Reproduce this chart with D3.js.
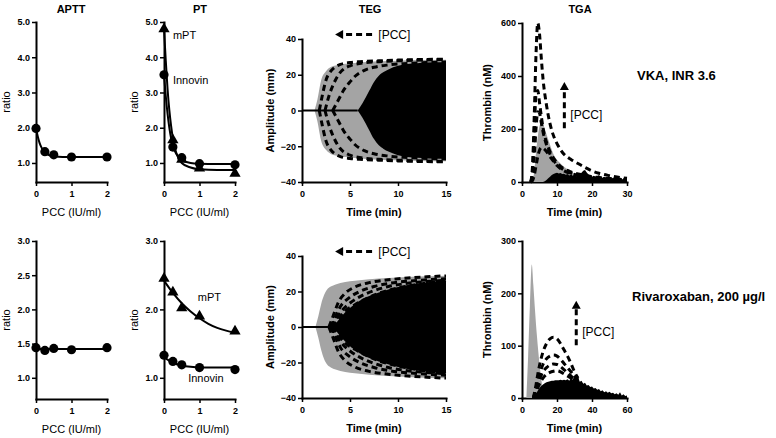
<!DOCTYPE html>
<html><head><meta charset="utf-8">
<script src="https://cdn.jsdelivr.net/npm/d3@7"></script>
<style>body{margin:0;background:#fff} svg{display:block} text{font-family:"Liberation Sans",Arial,Helvetica,sans-serif}</style>
</head><body><svg id="c" width="776" height="438"></svg>
<script>
// ---------- DATA ----------
const pcc = [0, 0.25, 0.5, 1, 2];
const apttVKA = [1.98, 1.32, 1.23, 1.17, 1.17];
const apttRiva = [1.44, 1.40, 1.43, 1.41, 1.44];
const ptVKA_mPT = [4.8, 1.65, 1.1, 0.85, 0.7];
const ptVKA_Innovin = [3.5, 1.45, 1.15, 0.98, 0.95];
const ptRiva_mPT = [2.45, 2.25, 2.02, 1.9, 1.68];
const ptRiva_Innovin = [1.33, 1.24, 1.19, 1.15, 1.12];

const fitX1 = [0, 0.05, 0.1, 0.15, 0.2, 0.25, 0.3, 0.4, 0.5, 0.75, 1, 1.5, 2];
const apttVKAFit = [1.98, 1.75, 1.57, 1.45, 1.36, 1.30, 1.26, 1.21, 1.19, 1.17, 1.17, 1.17, 1.17];
const ptVKA_mPTFit = [4.8, 3.9, 3.1, 2.5, 2.05, 1.7, 1.45, 1.15, 1.0, 0.87, 0.82, 0.8, 0.8];
const ptVKA_InnovinFit = [3.5, 2.9, 2.4, 2.0, 1.7, 1.5, 1.35, 1.18, 1.08, 1.0, 0.98, 0.97, 0.97];
const fitX2 = [0, 0.25, 0.5, 0.75, 1, 1.25, 1.5, 1.75, 2];
const apttRivaFit = [1.42, 1.42, 1.42, 1.42, 1.42, 1.42, 1.42, 1.42, 1.42];
const ptRiva_mPTFit = [2.42, 2.24, 2.09, 1.97, 1.87, 1.79, 1.73, 1.69, 1.66];
const ptRiva_InnovinFit = [1.30, 1.22, 1.18, 1.16, 1.15, 1.15, 1.15, 1.15, 1.15];

// TEG (upper half amplitude, mm; curve mirrored below)
const tegVKAGrayT = [1.3, 1.6, 2.0, 2.5, 3.0, 3.5, 4, 5, 6, 8, 10, 12, 15];
const tegVKAGrayA = [0, 6, 17, 22, 24.3, 25.2, 25.8, 26.3, 26.8, 27.5, 27.9, 28.2, 28.4];
const tegVKABlackT = [5.8, 6.3, 7, 7.5, 8, 8.5, 9, 10, 11, 12, 13, 15];
const tegVKABlackA = [0, 4, 11, 16, 19.5, 21.5, 23, 25, 26, 26.5, 26.8, 27];
const tegVKADash1T = [1.8, 2.1, 2.5, 3, 3.5, 4, 5, 6, 8, 10, 15];
const tegVKADash1A = [0, 8, 17, 22, 24.5, 25.8, 26.8, 27.3, 27.8, 28.2, 28.7];
const tegVKADash2T = [2.4, 2.8, 3.3, 3.8, 4.3, 5, 6, 8, 10, 15];
const tegVKADash2A = [0, 8, 15, 20, 23, 25, 26.3, 27.3, 27.8, 28.5];
const tegVKADash3T = [3.2, 3.8, 4.3, 5, 5.5, 6.5, 7.5, 9, 11, 13, 15];
const tegVKADash3A = [0, 6, 11, 16, 19, 22.5, 24.2, 25.5, 26.3, 26.8, 27.1];

const tegRivaGrayT = [1.4, 1.7, 2.0, 2.3, 2.6, 3.0, 3.5, 4, 5, 6, 8, 10, 12, 15];
const tegRivaGrayA = [0, 6, 13, 18, 21, 22.8, 24, 24.8, 25.8, 26.4, 27.3, 27.9, 28.4, 28.9];
const tegRivaBlackT = [3.3, 3.7, 4.2, 4.8, 5.5, 6.5, 7.5, 8.5, 10, 11, 12, 13, 15];
const tegRivaBlackA = [0, 3.3, 6.5, 9.8, 13, 16.3, 18.5, 20.3, 22.5, 23.6, 24.4, 25, 26];
const tegRivaDash1T = [2.8, 3.3, 3.8, 4.5, 5.5, 7, 9, 11, 13, 15];
const tegRivaDash1A = [0, 7, 14, 19, 22.5, 25, 26.6, 27.6, 28.3, 28.8];
const tegRivaDash2T = [3.0, 3.5, 4, 4.8, 6, 7.5, 9, 11, 13, 15];
const tegRivaDash2A = [0, 6, 11.5, 16, 20, 22.8, 24.5, 25.8, 26.6, 27.2];
const tegRivaDash3T = [3.1, 3.6, 4.2, 5, 6, 7.5, 9, 11, 13, 15];
const tegRivaDash3A = [0, 5, 9.5, 13.5, 17, 20.5, 22.8, 24.6, 25.6, 26.3];
const tegRivaDash4T = [3.2, 3.8, 4.5, 5.5, 6.5, 8, 10, 12, 15];
const tegRivaDash4A = [0, 4.5, 9, 12.5, 15.5, 19, 22, 24, 25.8];

// TGA (thrombin nM)
const tgaVKAGrayT = [3, 3.5, 4, 4.5, 5, 5.7, 6.5, 7.5, 9, 11, 13, 16, 20, 25, 30];
const tgaVKAGrayV = [0, 40, 110, 170, 210, 230, 200, 160, 105, 70, 48, 25, 12, 5, 2];
const tgaVKABlackT = [6, 6.5, 7, 7.5, 8, 8.5, 9, 9.5, 10, 10.5, 11, 11.5, 12, 12.5, 13, 13.5, 14, 14.5, 15, 15.5, 16, 16.5, 17, 17.5, 18, 18.5, 19, 19.5, 20, 20.5, 21, 21.5, 22, 22.5, 23, 23.5, 24, 24.5, 25, 25.5, 26, 26.5, 27, 27.5, 28, 28.5, 29, 29.5, 30];
const tgaVKABlackV = [0, 3, 8, 14, 20, 26, 30, 33, 35, 32, 34, 30, 31, 27, 30, 25, 28, 24, 27, 22, 26, 30, 35, 42, 45, 36, 28, 24, 20, 24, 18, 22, 26, 18, 16, 20, 14, 18, 15, 12, 16, 11, 14, 10, 13, 9, 12, 8, 10];
const tgaVKADashT = [2.5, 3, 3.5, 4, 4.5, 5, 5.5, 6, 7, 8, 9, 10, 12, 14, 16, 18, 20, 22, 25, 28, 30];
const tgaVKADash1V = [0, 60, 250, 480, 600, 560, 470, 390, 290, 220, 175, 145, 105, 85, 70, 55, 42, 33, 24, 17, 14];
const tgaVKADash2V = [0, 40, 180, 330, 345, 300, 250, 205, 150, 115, 90, 72, 50, 38, 30, 25, 20, 17, 13, 10, 9];
const tgaVKADash3V = [0, 20, 90, 200, 265, 260, 225, 190, 140, 105, 82, 65, 45, 34, 27, 22, 18, 15, 12, 9, 8];
const tgaVKADash4V = [0, 5, 25, 60, 95, 120, 130, 128, 115, 95, 78, 62, 42, 32, 25, 20, 17, 14, 11, 9, 8];

const tgaRivaGrayT = [2.5, 3.5, 4.5, 5.6, 6.5, 7.5, 8.5, 10, 11.5, 13];
const tgaRivaGrayV = [0, 80, 175, 255, 215, 165, 120, 65, 25, 0];
const tgaRivaBlackT = [6, 7, 8, 9, 10, 11, 12, 13, 14, 15, 16, 17, 18, 19, 20, 21, 22, 23, 24, 25, 26, 27, 28, 29, 30, 31, 32, 33, 34, 35, 36, 37, 38, 39, 40, 41, 42, 43, 44, 45, 46, 47, 48, 49, 50, 51, 52, 53, 54, 55, 56, 57, 58, 59, 60];
const tgaRivaBlackV = [0, 3, 8, 14, 19, 23, 26, 28, 30, 31, 32, 33, 33, 34, 34, 34, 35, 34, 35, 34, 36, 33, 38, 35, 44, 36, 40, 31, 33, 27, 29, 24, 25, 21, 22, 18, 19, 16, 17, 13, 15, 11, 13, 10, 12, 9, 10, 7, 9, 6, 11, 5, 7, 4, 5];
const tgaRivaDashT = [6.5, 8, 9, 10, 12, 14, 16, 18, 20, 22, 24, 26, 28, 30, 32];
const tgaRivaDash1V = [0, 25, 45, 62, 88, 104, 113, 116, 113, 104, 92, 80, 66, 50, 38];
const tgaRivaDash2V = [0, 18, 32, 45, 64, 75, 80, 82, 80, 74, 66, 58, 50, 42, 36];
const tgaRivaDash3V = [0, 14, 25, 35, 50, 58, 63, 65, 64, 60, 54, 48, 42, 37, 34];
const tgaRivaDash4V = [0, 10, 19, 27, 38, 45, 49, 51, 52, 50, 46, 42, 38, 35, 33];

const ratioTicksTop = [1.0, 2.0, 3.0, 4.0, 5.0];
const apttTicksBottom = [1.0, 1.5, 2.0, 2.5, 3.0];
const ptTicksBottom = [1.0, 2.0, 3.0];
const pccTicks = [0, 1, 2];
const tegTicksY = [-40, -20, 0, 20, 40];
const tegTicksX = [0, 5, 10, 15];
const tgaTicksYTop = [0, 200, 400, 600];
const tgaTicksYBottom = [0, 100, 200, 300];
const tgaTicksXTop = [0, 10, 20, 30];
const tgaTicksXBottom = [0, 20, 40, 60];

// ---------- DRAWING ----------
const svg = d3.select('#c');
const GRAY = '#a4a4a4';
const zip = (a, b) => a.map((v, i) => [v, b[i]]);

function axes(x, y, xt, yt, yfmt) {
  const g = svg.append('g');
  const ax = g.append('g').attr('transform', `translate(0,${y.range()[0]})`)
    .call(d3.axisBottom(x).tickValues(xt).tickSize(4).tickSizeOuter(0).tickPadding(5).tickFormat(d3.format('d')));
  const ay = g.append('g').attr('transform', `translate(${x.range()[0]},0)`)
    .call(d3.axisLeft(y).tickValues(yt).tickSize(4).tickSizeOuter(0).tickPadding(2).tickFormat(yfmt));
  [ax, ay].forEach(a => {
    a.select('.domain').attr('stroke', '#000').attr('stroke-width', 2).attr('stroke-linecap', 'square');
    a.selectAll('.tick line').attr('stroke', '#000').attr('stroke-width', 1.5);
    a.selectAll('.tick text').attr('fill', '#000').style('font-size', '9px').style('font-weight', 'bold')
      .style('font-family', '"Liberation Sans",Arial,sans-serif');
  });
}
function text(x, y, s, opt = {}) {
  const t = svg.append('text').attr('x', x).attr('y', y).text(s)
    .attr('text-anchor', opt.anchor || 'middle')
    .style('font-size', (opt.size || 11) + 'px')
    .style('font-weight', opt.bold ? 'bold' : 'normal').attr('fill', '#000');
  if (opt.rot) t.attr('transform', `rotate(-90,${x},${y})`);
  if (opt.dy) t.attr('dy', opt.dy);
  return t;
}
function arrow(x1, y1, x2, y2) {
  const dx = x2 - x1, dy = y2 - y1, L = Math.hypot(dx, dy), ux = dx / L, uy = dy / L;
  const hl = 8, hw = 4.5;
  const bx = x2 - ux * hl, by = y2 - uy * hl;
  svg.append('line').attr('x1', x1).attr('y1', y1).attr('x2', bx).attr('y2', by)
    .attr('stroke', '#000').attr('stroke-width', 3).attr('stroke-dasharray', '6,4');
  svg.append('path').attr('d', `M${x2},${y2}L${bx - uy * hw},${by + ux * hw}L${bx + uy * hw},${by - ux * hw}Z`).attr('fill', '#000');
}

// ---- ratio panels ----
function ratioPanel(x, y, yt, yfmt, fitX, fits, pts) {
  axes(x, y, pccTicks, yt, yfmt);
  const line = d3.line().x(d => x(d[0])).y(d => y(d[1])).curve(d3.curveMonotoneX);
  fits.forEach(f => svg.append('path').attr('d', line(zip(fitX, f))).attr('fill', 'none').attr('stroke', '#000').attr('stroke-width', 2));
  pts.forEach(p => {
    const data = zip(pcc, p.v);
    if (p.shape === 'tri') {
      svg.append('g').selectAll('path').data(data).join('path')
        .attr('d', d3.symbol(d3.symbolTriangle, 55)())
        .attr('transform', d => `translate(${x(d[0])},${y(d[1])})`).attr('fill', '#000');
    } else {
      svg.append('g').selectAll('circle').data(data).join('circle')
        .attr('cx', d => x(d[0])).attr('cy', d => y(d[1])).attr('r', 4.6).attr('fill', '#000');
    }
  });
  text(x.range()[0] - 26, (y.range()[0] + y.range()[1]) / 2, 'ratio', {rot: true});
  text((x.range()[0] + x.range()[1]) / 2, y.range()[0] + 34, 'PCC (IU/ml)');
}
const f1 = d3.format('.1f');
const xA = d3.scaleLinear().domain([0, 2]).range([36, 107]);
const xP = d3.scaleLinear().domain([0, 2]).range([164, 235]);
const yR1 = d3.scaleLinear().domain([0.46, 5]).range([182, 22]);
const yR2 = d3.scaleLinear().domain([0.69, 3]).range([399, 241]);

ratioPanel(xA, yR1, ratioTicksTop, f1, fitX1, [apttVKAFit], [{v: apttVKA}]);
ratioPanel(xP, yR1, ratioTicksTop, f1, fitX1, [ptVKA_mPTFit, ptVKA_InnovinFit], [{v: ptVKA_mPT, shape: 'tri'}, {v: ptVKA_Innovin}]);
ratioPanel(xA, yR2, apttTicksBottom, f1, fitX2, [apttRivaFit], [{v: apttRiva}]);
ratioPanel(xP, yR2, ptTicksBottom, f1, fitX2, [ptRiva_mPTFit, ptRiva_InnovinFit], [{v: ptRiva_mPT, shape: 'tri'}, {v: ptRiva_Innovin}]);

text(xP(0.25), yR1(4.62), 'mPT', {anchor: 'start', size: 11}).attr('dy', '0.35em');
text(xP(0.25), yR1(3.35), 'Innovin', {anchor: 'start', size: 11}).attr('dy', '0.35em');
text(xP(0.95), yR2(2.18), 'mPT', {anchor: 'start', size: 11}).attr('dy', '0.35em');
text(xP(0.68), yR2(0.99), 'Innovin', {anchor: 'start', size: 11}).attr('dy', '0.35em');

// ---- TEG panels ----
function tegPanel(x, y, gray, black, dashes) {
  axes(x, y, tegTicksX, tegTicksY, d3.format('d'));
  const area = d3.area().x(d => x(d[0])).y0(d => y(-d[1])).y1(d => y(d[1])).curve(d3.curveMonotoneX);
  svg.append('path').attr('d', area(zip(gray[0], gray[1]))).attr('fill', GRAY);
  svg.append('path').attr('d', area(zip(black[0], black[1]))).attr('fill', '#000');
  svg.append('line').attr('x1', x(0)).attr('x2', x(black[0][0])).attr('y1', y(0)).attr('y2', y(0))
    .attr('stroke', '#000').attr('stroke-width', 2);
  const up = d3.line().x(d => x(d[0])).y(d => y(d[1])).curve(d3.curveMonotoneX);
  const dn = d3.line().x(d => x(d[0])).y(d => y(-d[1])).curve(d3.curveMonotoneX);
  dashes.forEach(dd => {
    const data = zip(dd[0], dd[1]);
    [up, dn].forEach(l => svg.append('path').attr('d', l(data)).attr('fill', 'none')
      .attr('stroke', '#000').attr('stroke-width', 3).attr('stroke-dasharray', '6,4'));
  });
  text(x.range()[0] - 28, (y.range()[0] + y.range()[1]) / 2, 'Amplitude (mm)', {rot: true, bold: true});
  text((x.range()[0] + x.range()[1]) / 2, y.range()[0] + 34, 'Time (min)', {bold: true});
  const ay = y(42.5);
  arrow(x(7.3), ay, x(3.45), ay);
  text(x(7.95), ay, '[PCC]', {anchor: 'start', size: 12, dy: '0.36em'});
}
const xT = d3.scaleLinear().domain([0, 15]).range([302, 446]);
const yT1 = d3.scaleLinear().domain([-40, 40]).range([182, 39]);
const yT2 = d3.scaleLinear().domain([-40, 40]).range([398, 256]);
tegPanel(xT, yT1, [tegVKAGrayT, tegVKAGrayA], [tegVKABlackT, tegVKABlackA],
  [[tegVKADash1T, tegVKADash1A], [tegVKADash2T, tegVKADash2A], [tegVKADash3T, tegVKADash3A]]);
tegPanel(xT, yT2, [tegRivaGrayT, tegRivaGrayA], [tegRivaBlackT, tegRivaBlackA],
  [[tegRivaDash1T, tegRivaDash1A], [tegRivaDash2T, tegRivaDash2A], [tegRivaDash3T, tegRivaDash3A], [tegRivaDash4T, tegRivaDash4A]]);

// ---- TGA panels ----
function tgaPanel(x, y, xt, yt, gray, black, dashT, dashes, arr) {
  axes(x, y, xt, yt, d3.format('d'));
  const area = d3.area().x(d => x(d[0])).y0(y(0)).y1(d => y(d[1]));
  svg.append('path').attr('d', area.curve(d3.curveMonotoneX)(zip(gray[0], gray[1]))).attr('fill', GRAY);
  svg.append('path').attr('d', area.curve(d3.curveLinear)(zip(black[0], black[1]))).attr('fill', '#000');
  const line = d3.line().x(d => x(d[0])).y(d => y(d[1])).curve(d3.curveMonotoneX);
  dashes.forEach(v => svg.append('path').attr('d', line(zip(dashT, v))).attr('fill', 'none')
    .attr('stroke', '#000').attr('stroke-width', 3).attr('stroke-dasharray', '6,4'));
  text(x.range()[0] - 31, (y.range()[0] + y.range()[1]) / 2, 'Thrombin (nM)', {rot: true, bold: true});
  text((x.range()[0] + x.range()[1]) / 2, y.range()[0] + 34, 'Time (min)', {bold: true});
  arrow(x(arr.t), y(arr.v0), x(arr.t), y(arr.v1));
  text(x(arr.t) + 6, y(arr.tv), '[PCC]', {anchor: 'start', size: 12, dy: '0.36em'});
}
const xG1 = d3.scaleLinear().domain([0, 30]).range([522, 627]);
const xG2 = d3.scaleLinear().domain([0, 60]).range([522, 627]);
const yG1 = d3.scaleLinear().domain([0, 600]).range([182, 23]);
const yG2 = d3.scaleLinear().domain([0, 300]).range([398, 241]);
tgaPanel(xG1, yG1, tgaTicksXTop, tgaTicksYTop, [tgaVKAGrayT, tgaVKAGrayV], [tgaVKABlackT, tgaVKABlackV],
  tgaVKADashT, [tgaVKADash1V, tgaVKADash2V, tgaVKADash3V, tgaVKADash4V], {t: 12.1, v0: 203, v1: 377, tv: 255});
tgaPanel(xG2, yG2, tgaTicksXBottom, tgaTicksYBottom, [tgaRivaGrayT, tgaRivaGrayV], [tgaRivaBlackT, tgaRivaBlackV],
  tgaRivaDashT, [tgaRivaDash1V, tgaRivaDash2V, tgaRivaDash3V, tgaRivaDash4V], {t: 31, v0: 101, v1: 186, tv: 126});

// ---- titles & row labels ----
text(71, 13, 'APTT', {bold: true, size: 11});
text(200, 13, 'PT', {bold: true, size: 11});
text(370, 13, 'TEG', {bold: true, size: 11});
text(580, 13, 'TGA', {bold: true, size: 11});
text(637, 75, 'VKA, INR 3.6', {anchor: 'start', bold: true, size: 13, dy: '0.36em'});
text(632, 296, 'Rivaroxaban, 200 µg/l', {anchor: 'start', bold: true, size: 13, dy: '0.36em'});
</script></body></html>
